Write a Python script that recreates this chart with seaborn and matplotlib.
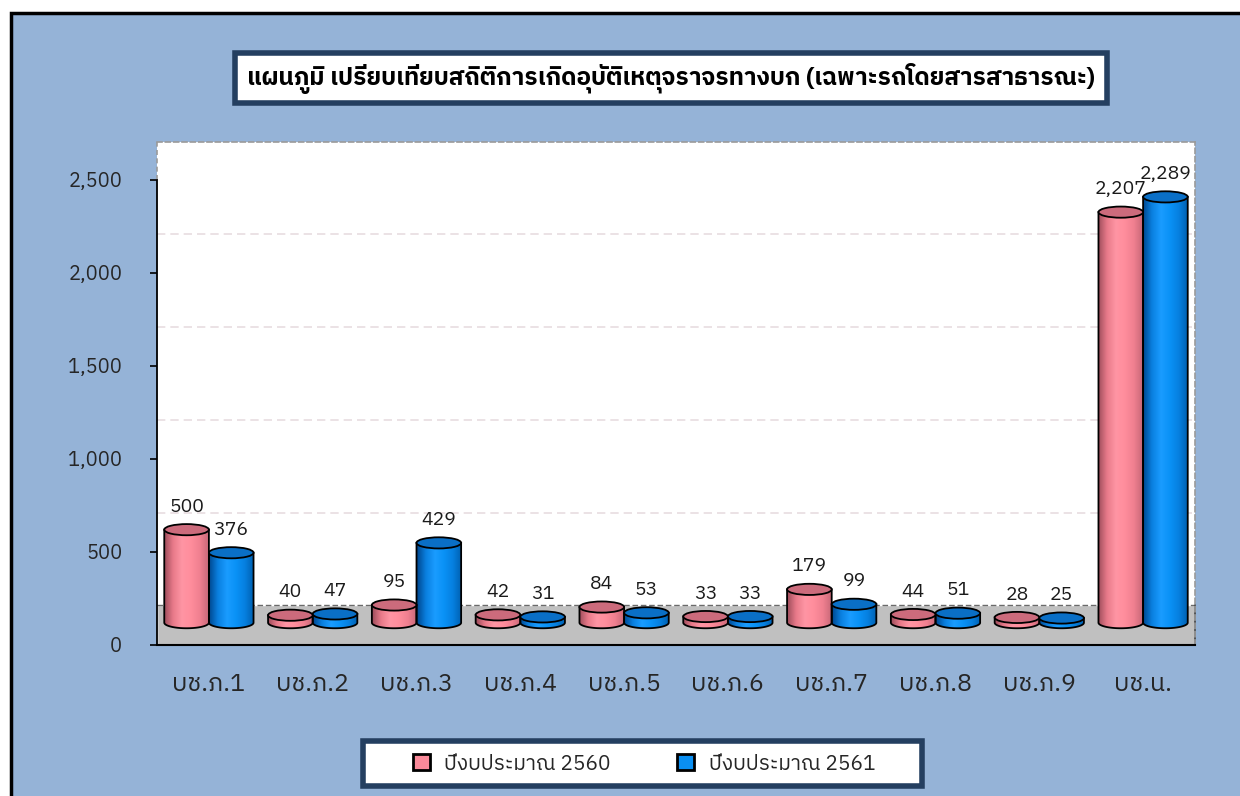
import numpy as np
import pandas as pd
import matplotlib
matplotlib.use("Agg")
import matplotlib.pyplot as plt
import seaborn as sns
from matplotlib import font_manager as fm
from matplotlib.ft2font import FT2Font
from matplotlib.patches import Rectangle, Ellipse, PathPatch, Patch
from matplotlib.path import Path
from matplotlib.colors import LinearSegmentedColormap

# ---------------- data ----------------
regions = ["บช.ภ.1", "บช.ภ.2", "บช.ภ.3", "บช.ภ.4", "บช.ภ.5",
           "บช.ภ.6", "บช.ภ.7", "บช.ภ.8", "บช.ภ.9", "บช.น."]
series_names = ["ปีงบประมาณ 2560", "ปีงบประมาณ 2561"]
values_2560 = [500, 40, 95, 42, 84, 33, 179, 44, 28, 2207]
values_2561 = [376, 47, 429, 31, 53, 33, 99, 51, 25, 2289]
y_ticks = [0, 500, 1000, 1500, 2000, 2500]
title = "แผนภูมิ เปรียบเทียบสถิติการเกิดอุบัติเหตุจราจรทางบก (เฉพาะรถโดยสารสาธารณะ)"

# ---------------- style ----------------
BG = "#95b3d7"
PINK = "#fa8a9a"
BLUE = "#0a8ff2"
PINK_CAP = "#cc6b7c"
BLUE_CAP = "#0a6fc6"
NAVY = "#243f60"
BASE = 120      # 3D depth offset of bar bases (data units)
CAP_B = 30      # semi-height of cylinder caps (data units)
DEPTH = 210     # back-wall offset of gridlines
FLOOR = 215     # floor depth


def find_thai_family():
    best = None
    for f in fm.fontManager.ttflist:
        try:
            cm = FT2Font(f.fname).get_charmap()
        except Exception:
            continue
        if 0x0E41 in cm and 0x0E1B in cm:
            if best is None or ("Sans" in f.name and "Sans" not in best):
                best = f.name
    return best


sns.set_style("white")
thai = find_thai_family()
families = [thai, "DejaVu Sans"] if thai else ["DejaVu Sans"]
plt.rcParams["font.family"] = families

df = pd.DataFrame({
    "region": regions * 2,
    "value": values_2560 + values_2561,
    "year": [series_names[0]] * len(regions) + [series_names[1]] * len(regions),
})

W, H = 1240, 796
fig = plt.figure(figsize=(W / 100, H / 100), dpi=100)
fig.patch.set_facecolor("white")


def fx(px):
    return px / W


def fy(py):
    return 1 - py / H


fig.patches.append(Rectangle((fx(11), -0.05), 1.1, fy(13) + 0.05,
                             transform=fig.transFigure, fc=BG, ec="black",
                             lw=2.5, zorder=-2))

ax = fig.add_axes([fx(157), fy(645), fx(1195) - fx(157), fy(142) - fy(645)])
ax.set_zorder(2)
ax.set_facecolor("white")

sns.barplot(data=df, x="region", y="value", hue="year", order=regions,
            hue_order=series_names, palette=[PINK, BLUE], width=0.86,
            saturation=1, ax=ax, legend=False)

cmaps = [
    LinearSegmentedColormap.from_list("p", ["#9c4c5a", "#e87a8a", "#ff95a4", "#ff8d9c", "#f08090", "#c86878"]),
    LinearSegmentedColormap.from_list("b", ["#004890", "#0a80e0", "#1a9cff", "#0a92f6", "#0680e0", "#0060b0"]),
]
caps = [PINK_CAP, BLUE_CAP]
grad = np.linspace(0, 1, 128).reshape(1, -1)

for ci, container in enumerate(ax.containers):
    for bar in container:
        x0, w, h = bar.get_x(), bar.get_width(), bar.get_height()
        bar.set_visible(False)
        cx = x0 + w / 2
        top = BASE + h
        t = np.linspace(np.pi, 2 * np.pi, 60)
        verts = [(x0, top), (x0, BASE)]
        verts += list(zip(cx + (w / 2) * np.cos(t), BASE + CAP_B * np.sin(t)))
        verts += [(x0 + w, BASE), (x0 + w, top), (x0, top)]
        codes = [Path.MOVETO] + [Path.LINETO] * (len(verts) - 2) + [Path.CLOSEPOLY]
        body = PathPatch(Path(verts, codes), fc="none", ec="black", lw=1.3, zorder=4)
        ax.add_patch(body)
        im = ax.imshow(grad, cmap=cmaps[ci], extent=[x0, x0 + w, BASE - CAP_B, top],
                       aspect="auto", zorder=3, interpolation="bilinear")
        im.set_clip_path(body)
        ax.add_patch(Ellipse((cx, top), w, 2 * CAP_B, fc=caps[ci], ec="black",
                             lw=1.3, zorder=5))
        ax.annotate(f"{int(h):,}", (cx, top + CAP_B), xytext=(0, 6),
                    textcoords="offset points", ha="center", va="bottom",
                    fontsize=14, color="#1a1a1a", zorder=6)

ymax = 2704
ax.set_xlim(-0.5, len(regions) - 0.5)
ax.set_ylim(0, ymax)

# floor and back-wall gridlines
ax.axhspan(0, FLOOR, fc="#c0c0c0", zorder=1)
ax.axhline(FLOOR, ls=(0, (4, 2)), color="#6a6a6a", lw=1, zorder=1.5)
ax.plot([len(regions) - 0.5] * 2, [0, FLOOR], color="#404040", lw=1.2,
        clip_on=False, zorder=2)
for v in y_ticks[1:-1]:
    ax.axhline(v + DEPTH, ls=(0, (5, 3)), color="#e8dde0", lw=1.2, zorder=0.5)

ax.set_yticks(y_ticks)
ax.set_yticklabels([f"{v:,}" for v in y_ticks], fontsize=14.5)
ax.set_xticks(range(len(regions)))
ax.set_xticklabels(regions, fontsize=18)
ax.set_xticks(np.arange(-0.5, len(regions), 1.0), minor=True)
ax.tick_params(axis="x", which="major", length=0, pad=20)
ax.tick_params(axis="x", which="minor", length=7, width=1.2, direction="out", color="black")
ax.tick_params(axis="y", which="major", length=5, width=1.2, direction="out", color="black", pad=20, left=True)
ax.set_xlabel("")
ax.set_ylabel("")

for s in ["top", "right"]:
    ax.spines[s].set_visible(True)
    ax.spines[s].set_linestyle((0, (3, 2)))
    ax.spines[s].set_color("#9a9a9a")
    ax.spines[s].set_linewidth(1.2)
ax.spines["left"].set_color("black")
ax.spines["left"].set_linewidth(1.3)
ax.spines["left"].set_bounds(0, y_ticks[-1])
ax.plot([-0.5, -0.5], [y_ticks[-1], ymax], ls=(0, (3, 2)), color="#9a9a9a",
        lw=1.2, clip_on=False, zorder=2)
ax.spines["bottom"].set_color("black")
ax.spines["bottom"].set_linewidth(1.5)
ax.grid(False)

# title box
fig.patches.append(Rectangle((fx(235), fy(103)), fx(1107) - fx(235), fy(53) - fy(103),
                             transform=fig.transFigure, fc="white", ec=NAVY,
                             lw=4, zorder=1))
fig.text(fx(671), fy(78), title, ha="center", va="center", fontsize=17.5,
         fontweight="bold", color="black", zorder=2)

# legend box
fig.patches.append(Rectangle((fx(363), fy(786)), fx(922) - fx(363), fy(741) - fy(786),
                             transform=fig.transFigure, fc="white", ec=NAVY,
                             lw=4, zorder=1))
handles = [Patch(fc=PINK, ec="black", lw=2), Patch(fc=BLUE, ec="black", lw=2)]
leg = fig.legend(handles, series_names, loc="center", bbox_to_anchor=(fx(644), fy(764)),
                 ncol=2, frameon=False, fontsize=15, handlelength=0.8,
                 handleheight=0.8, columnspacing=3.2, handletextpad=0.7)
leg.set_zorder(3)

fig.savefig("out.png", dpi=100)
